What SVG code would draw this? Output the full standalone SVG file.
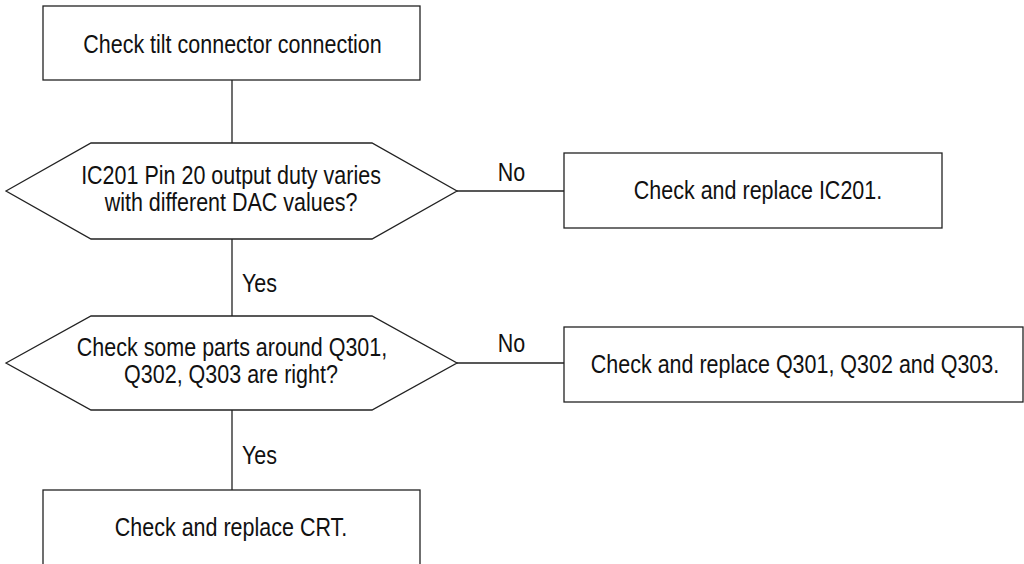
<svg xmlns="http://www.w3.org/2000/svg" width="1024" height="564" viewBox="0 0 1024 564">
<style>
.box{fill:#fff;stroke:#222;stroke-width:1.3}
.ln{fill:none;stroke:#222;stroke-width:1.3}
text{font-family:"Liberation Sans Narrow","Arial Narrow","Liberation Sans",Arial,sans-serif;font-size:25px;fill:#111}
.c{text-anchor:middle}
</style>
<rect width="1024" height="564" fill="#fff"/>
<g id="connectors">
<path class="ln" d="M232 80V143M232 239V316M232 410V490M457 191H564M457 363H564"/>
<text class="c" transform="translate(511.5,181) scale(0.86,1)">No</text>
<text class="c" transform="translate(511.5,352) scale(0.86,1)">No</text>
<text transform="translate(242,292) scale(0.86,1)">Yes</text>
<text transform="translate(242,464) scale(0.86,1)">Yes</text>
</g>
<g id="start">
<rect class="box" x="43" y="6" width="377" height="74"/>
<text class="c" transform="translate(232.5,53) scale(0.86,1)">Check tilt connector connection</text>
</g>
<g id="dec1">
<polygon class="box" points="6,191 91,143 372,143 457,191 372,239 91,239"/>
<text class="c" transform="translate(231,184) scale(0.86,1)">IC201 Pin 20 output duty varies</text>
<text class="c" transform="translate(231,211) scale(0.86,1)">with different DAC values?</text>
</g>
<g id="fix1">
<rect class="box" x="564" y="153" width="378" height="75"/>
<text class="c" transform="translate(758,199) scale(0.86,1)">Check and replace IC201.</text>
</g>
<g id="dec2">
<polygon class="box" points="6,363 91,316 372,316 457,363 372,410 91,410"/>
<text class="c" transform="translate(232,356) scale(0.86,1)">Check some parts around Q301,</text>
<text class="c" transform="translate(231,383) scale(0.86,1)">Q302, Q303 are right?</text>
</g>
<g id="fix2">
<rect class="box" x="564" y="327" width="459" height="75"/>
<text class="c" transform="translate(795,373) scale(0.86,1)">Check and replace Q301, Q302 and Q303.</text>
</g>
<g id="end">
<rect class="box" x="43" y="490" width="377" height="80"/>
<text class="c" transform="translate(231,536) scale(0.86,1)">Check and replace CRT.</text>
</g>
</svg>
